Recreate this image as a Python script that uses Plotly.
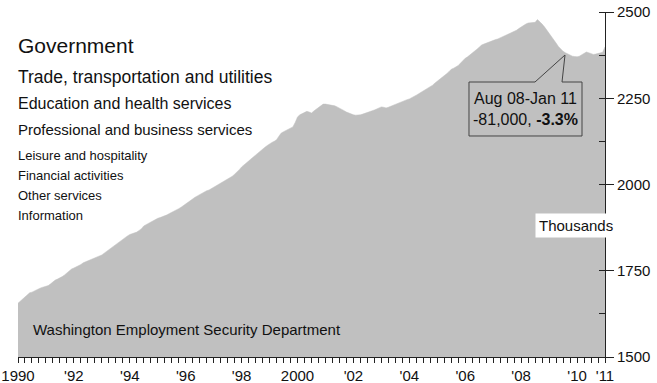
import plotly.graph_objects as go

# Monthly employment, thousands (Jan 1990 .. Jan 2011)
start_year = 1990
values = [
    1656,1662,1668,1673,1680,1686,1688,1692,1695,1698,1701,1703,  # 1990
    1705,1707,1712,1718,1723,1726,1729,1733,1738,1744,1750,1755,  # 1991
    1758,1761,1764,1768,1773,1776,1778,1781,1784,1787,1790,1792,  # 1992
    1796,1801,1806,1812,1818,1823,1828,1833,1838,1842,1846,1851,  # 1993
    1855,1857,1859,1862,1867,1872,1880,1884,1888,1892,1896,1899,  # 1994
    1902,1904,1906,1908,1912,1916,1919,1922,1926,1930,1934,1939,  # 1995
    1945,1950,1955,1959,1963,1967,1971,1975,1979,1982,1984,1988,  # 1996
    1992,1996,2000,2004,2008,2012,2015,2019,2024,2030,2036,2043,  # 1997
    2051,2056,2062,2068,2074,2080,2085,2091,2097,2103,2108,2113,  # 1998
    2118,2122,2125,2130,2140,2149,2153,2157,2161,2164,2167,2180,  # 1999
    2196,2202,2206,2210,2212,2210,2207,2213,2218,2222,2228,2233,  # 2000
    2233,2232,2231,2230,2228,2225,2222,2218,2214,2210,2207,2204,  # 2001
    2202,2201,2201,2202,2204,2206,2208,2210,2213,2216,2219,2222,  # 2002
    2225,2224,2222,2224,2227,2229,2231,2234,2237,2240,2243,2246,  # 2003
    2248,2251,2255,2259,2263,2267,2270,2274,2279,2284,2288,2294,  # 2004
    2299,2304,2309,2315,2321,2327,2334,2337,2340,2345,2352,2360,  # 2005
    2366,2370,2375,2380,2386,2392,2398,2404,2407,2410,2413,2416,  # 2006
    2418,2420,2422,2425,2428,2431,2434,2437,2439,2443,2447,2452,  # 2007
    2457,2462,2465,2468,2468,2468,2470,2478,2472,2465,2457,2448,  # 2008
    2440,2430,2419,2410,2400,2392,2386,2382,2378,2375,2372,2371,  # 2009
    2370,2372,2376,2381,2384,2382,2379,2377,2378,2380,2381,2383,  # 2010
    2399,                                                          # Jan 2011
]
x_years = [start_year + i / 12 for i in range(len(values))]

tick_years = [1990, 1992, 1994, 1996, 1998, 2000, 2002, 2004, 2006, 2008, 2010, 2011]
tick_labels = ["1990", "'92", "'94", "'96", "'98", "2000", "'02", "'04", "'06", "'08", "'10", "'11"]
y_ticks = [1500, 1750, 2000, 2250, 2500]

industries = [
    ("Government", 21),
    ("Trade, transportation and utilities", 17.5),
    ("Education and health services", 16),
    ("Professional and business services", 15),
    ("Leisure and hospitality", 13),
    ("Financial activities", 13),
    ("Other services", 13),
    ("Information", 13),
]
industry_y_px = [46, 77, 103, 129, 155, 175, 195, 215]

W, H = 657, 383
L, R, T, B = 18, 52, 12, 26
PW, PH = W - L - R, H - T - B

def px(xp):
    return (xp - L) / PW

def py(yp):
    return (H - B - yp) / PH

FONT = "Liberation Sans, Arial, sans-serif"
GRAY = "#c0c0c0"

fig = go.Figure()
fig.add_trace(go.Scatter(
    x=x_years, y=values, mode="lines", fill="tozeroy",
    fillcolor=GRAY, line=dict(color=GRAY, width=0.5), hoverinfo="skip",
))

annotations = []
for (txt, size), ypx in zip(industries, industry_y_px):
    annotations.append(dict(
        text=txt, xref="paper", yref="paper", x=px(16), y=py(ypx),
        xanchor="left", yanchor="middle", showarrow=False,
        font=dict(family=FONT, size=size, color="#111"),
    ))

annotations.append(dict(
    text="Washington Employment Security Department", xref="paper", yref="paper",
    x=px(31), y=py(329), xanchor="left", yanchor="middle", showarrow=False,
    font=dict(family=FONT, size=15, color="#111"),
))
annotations.append(dict(
    text="Thousands", xref="paper", yref="paper", x=px(576), y=py(225),
    xanchor="center", yanchor="middle", showarrow=False, bgcolor="white",
    borderpad=3, font=dict(family=FONT, size=15, color="#111"),
))
annotations.append(dict(
    text="Aug 08-Jan 11<br>-81,000, <b>-3.3%</b>", xref="paper", yref="paper",
    x=px(525.5), y=py(109), xanchor="center", yanchor="middle", showarrow=False,
    align="center", font=dict(family=FONT, size=16, color="#111"),
))

# callout box with tail
pts = [(469, 82), (535, 82), (565, 55), (562, 82), (582, 82), (582, 136), (469, 136)]
path = "M " + " L ".join(f"{px(a):.5f},{py(b):.5f}" for a, b in pts) + " Z"
shapes = [dict(type="path", xref="paper", yref="paper", path=path,
               fillcolor=GRAY, line=dict(color="#444", width=1), layer="above")]

fig.update_layout(
    width=W, height=H, margin=dict(l=L, r=R, t=T, b=B, autoexpand=False),
    paper_bgcolor="white", plot_bgcolor="white", showlegend=False,
    annotations=annotations, shapes=shapes,
    font=dict(family=FONT, size=15, color="#111"),
)
fig.update_xaxes(
    range=[1990, 2011], tickvals=tick_years, ticktext=tick_labels, automargin=False,
    showgrid=False, zeroline=False, showline=True, linecolor="#222", linewidth=1,
    ticks="outside", ticklen=5, tickcolor="#222",
    minor=dict(dtick=0.25, tick0=1990, ticks="outside", ticklen=5, tickcolor="#222"),
    tickfont=dict(family=FONT, size=15, color="#111"),
)
fig.update_yaxes(
    range=[1500, 2500], side="right", tickvals=y_ticks, automargin=False,
    showgrid=False, zeroline=False, showline=True, linecolor="#222", linewidth=1,
    ticks="outside", ticklen=8, tickcolor="#222",
    minor=dict(dtick=125, tick0=1500, ticks="inside", ticklen=6, tickcolor="#222"),
    tickfont=dict(family=FONT, size=15, color="#111"),
)

fig.write_html("out.html")
